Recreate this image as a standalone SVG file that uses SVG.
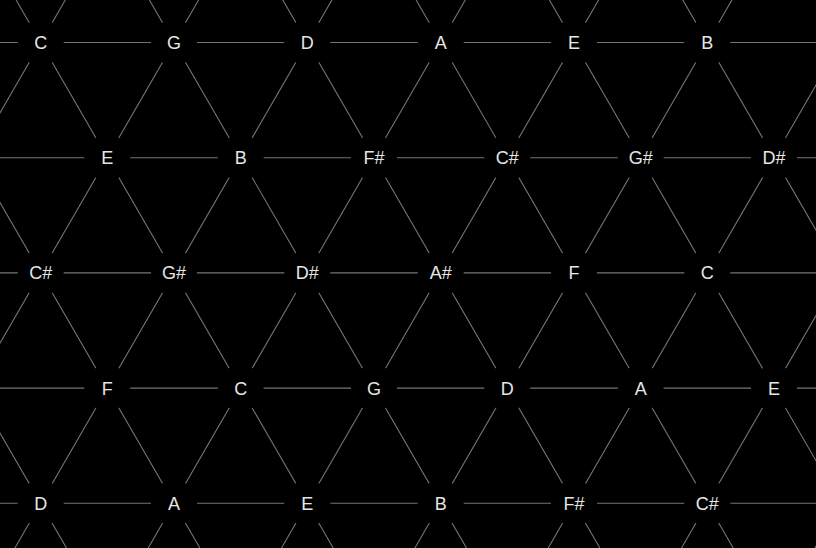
<svg xmlns="http://www.w3.org/2000/svg" width="816" height="548" viewBox="0 0 816 548">
<style>
.edge{stroke:#747474;stroke-width:1.1;fill:none}
.node circle{fill:#000}
.node text{font-family:"Liberation Sans",Arial,Helvetica,sans-serif;font-size:18px;fill:#e6e6e6;text-anchor:middle}
</style>
<rect width="816" height="548" fill="#000"/>
<g id="connectors" class="edge">
<path d="M0 42.5H816M0 157.7H816M0 272.9H816M0 388.1H816M0 503.3H816"/>
<path d="M-250.6 0L66.5 548M-117.2 0L199.9 548M16.1 0L333.2 548M149.4 0L466.5 548M282.8 0L599.9 548M416.1 0L733.2 548M549.4 0L866.5 548M682.8 0L999.9 548"/>
<path d="M65.3 0L-251.8 548M198.6 0L-118.5 548M331.9 0L14.9 548M465.3 0L148.2 548M598.6 0L281.5 548M731.9 0L414.9 548M865.3 0L548.2 548M998.6 0L681.5 548M1131.9 0L814.9 548"/>
</g>
<g id="n0-0" class="node"><circle cx="40.7" cy="42.5" r="23"/><text x="40.7" y="49">C</text></g>
<g id="n0-1" class="node"><circle cx="174" cy="42.5" r="23"/><text x="174" y="49">G</text></g>
<g id="n0-2" class="node"><circle cx="307.3" cy="42.5" r="23"/><text x="307.3" y="49">D</text></g>
<g id="n0-3" class="node"><circle cx="440.7" cy="42.5" r="23"/><text x="440.7" y="49">A</text></g>
<g id="n0-4" class="node"><circle cx="574" cy="42.5" r="23"/><text x="574" y="49">E</text></g>
<g id="n0-5" class="node"><circle cx="707.3" cy="42.5" r="23"/><text x="707.3" y="49">B</text></g>
<g id="n1-0" class="node"><circle cx="107.3" cy="157.7" r="23"/><text x="107.3" y="164.2">E</text></g>
<g id="n1-1" class="node"><circle cx="240.7" cy="157.7" r="23"/><text x="240.7" y="164.2">B</text></g>
<g id="n1-2" class="node"><circle cx="374" cy="157.7" r="23"/><text x="374" y="164.2">F#</text></g>
<g id="n1-3" class="node"><circle cx="507.3" cy="157.7" r="23"/><text x="507.3" y="164.2">C#</text></g>
<g id="n1-4" class="node"><circle cx="640.7" cy="157.7" r="23"/><text x="640.7" y="164.2">G#</text></g>
<g id="n1-5" class="node"><circle cx="774" cy="157.7" r="23"/><text x="774" y="164.2">D#</text></g>
<g id="n2-0" class="node"><circle cx="40.7" cy="272.9" r="23"/><text x="40.7" y="279.4">C#</text></g>
<g id="n2-1" class="node"><circle cx="174" cy="272.9" r="23"/><text x="174" y="279.4">G#</text></g>
<g id="n2-2" class="node"><circle cx="307.3" cy="272.9" r="23"/><text x="307.3" y="279.4">D#</text></g>
<g id="n2-3" class="node"><circle cx="440.7" cy="272.9" r="23"/><text x="440.7" y="279.4">A#</text></g>
<g id="n2-4" class="node"><circle cx="574" cy="272.9" r="23"/><text x="574" y="279.4">F</text></g>
<g id="n2-5" class="node"><circle cx="707.3" cy="272.9" r="23"/><text x="707.3" y="279.4">C</text></g>
<g id="n3-0" class="node"><circle cx="107.3" cy="388.1" r="23"/><text x="107.3" y="394.6">F</text></g>
<g id="n3-1" class="node"><circle cx="240.7" cy="388.1" r="23"/><text x="240.7" y="394.6">C</text></g>
<g id="n3-2" class="node"><circle cx="374" cy="388.1" r="23"/><text x="374" y="394.6">G</text></g>
<g id="n3-3" class="node"><circle cx="507.3" cy="388.1" r="23"/><text x="507.3" y="394.6">D</text></g>
<g id="n3-4" class="node"><circle cx="640.7" cy="388.1" r="23"/><text x="640.7" y="394.6">A</text></g>
<g id="n3-5" class="node"><circle cx="774" cy="388.1" r="23"/><text x="774" y="394.6">E</text></g>
<g id="n4-0" class="node"><circle cx="40.7" cy="503.3" r="23"/><text x="40.7" y="509.8">D</text></g>
<g id="n4-1" class="node"><circle cx="174" cy="503.3" r="23"/><text x="174" y="509.8">A</text></g>
<g id="n4-2" class="node"><circle cx="307.3" cy="503.3" r="23"/><text x="307.3" y="509.8">E</text></g>
<g id="n4-3" class="node"><circle cx="440.7" cy="503.3" r="23"/><text x="440.7" y="509.8">B</text></g>
<g id="n4-4" class="node"><circle cx="574" cy="503.3" r="23"/><text x="574" y="509.8">F#</text></g>
<g id="n4-5" class="node"><circle cx="707.3" cy="503.3" r="23"/><text x="707.3" y="509.8">C#</text></g>
</svg>
